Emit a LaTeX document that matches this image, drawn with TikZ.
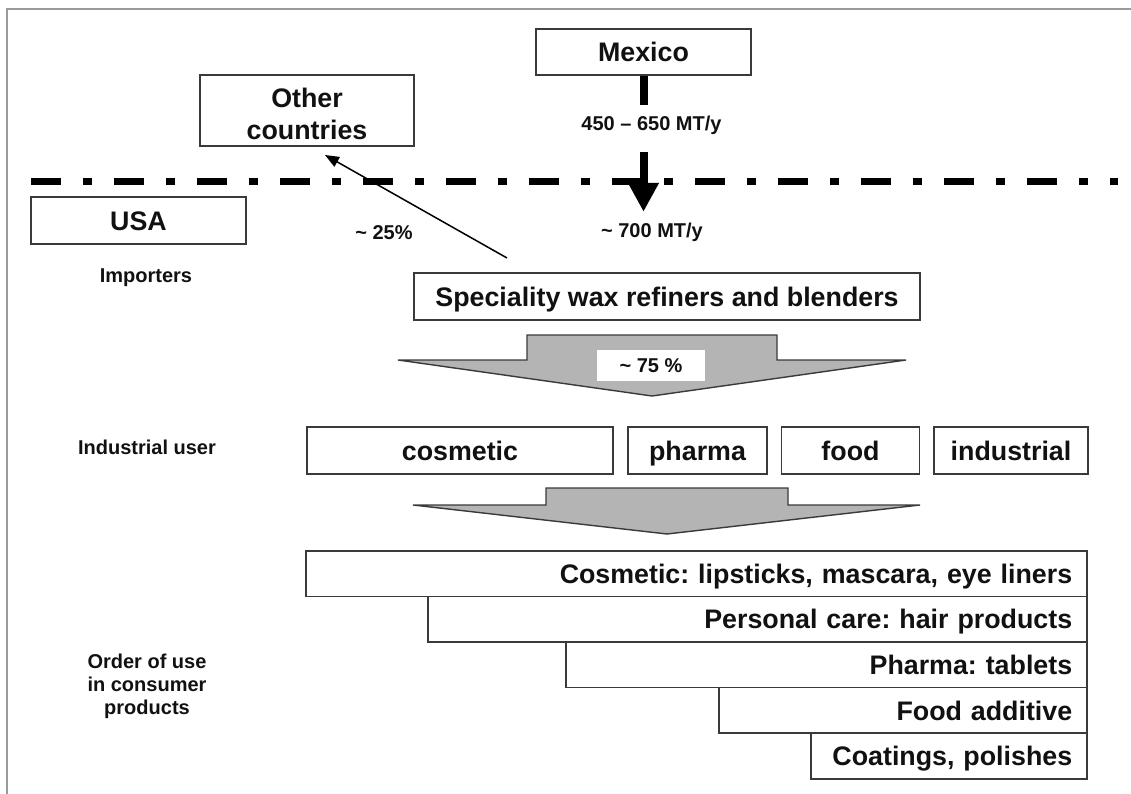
\documentclass[tikz,border=0pt]{standalone}
\usepackage{fontspec}
\setmainfont{Liberation Sans}
\usetikzlibrary{arrows.meta}

\definecolor{boxline}{HTML}{3A3A3A}
\definecolor{framegray}{HTML}{9A9A9A}
\definecolor{arrowfill}{HTML}{B4B4B4}
\definecolor{ink}{HTML}{111111}

\newcommand\bigtxt{\fontsize{26.8}{32}\selectfont\bfseries\frenchspacing}
\newcommand\smalltxt{\fontsize{20}{23}\selectfont\bfseries\frenchspacing}

\tikzset{
  box/.style={draw=boxline, line width=1.6pt, fill=white, text=ink,
    font=\bigtxt, inner sep=0pt, align=center,
    text height=19.2pt, text depth=0pt},
  plainbox/.style={draw=boxline, line width=1.6pt, fill=white, inner sep=0pt},
  rowbox/.style={box, anchor=north east, minimum height=45.6pt,
    inner xsep=15pt, inner ysep=0pt, align=right},
  lbl/.style={text=ink, font=\smalltxt, inner sep=0pt, align=center},
  bigarrow/.style={draw=boxline, line width=1.4pt, fill=arrowfill, line join=miter},
  border/.style={draw=black, line width=7pt,
    dash pattern=on 30pt off 22pt on 9pt off 22pt},
  thickflow/.style={draw=black, line width=8pt},
  exportarrow/.style={draw=black, line width=1.5pt,
    -{Triangle[width=11pt,length=14pt]}},
}

\begin{document}
\begin{tikzpicture}[x=1pt,y=-1pt]
  \useasboundingbox (0,0) rectangle (1131,794);
  \fill[white] (0,0) rectangle (1131,794);

  % frame edges
  \draw[framegray, line width=2pt] (7,794) -- (7,9) -- (1131,9);

  % national border
  \draw[border] (31,182) -- (1118,182);

  % countries
  \node[plainbox, minimum width=214pt, minimum height=71pt] (other) at (307,110.5) {};
  \node[text=ink, font=\bigtxt, align=center, inner sep=0pt] (othertext)
    at ([yshift=-3.5pt]other.center) {Other\\countries};
  \node[box, minimum width=215pt, minimum height=46pt] (mexico) at (643.5,52) {Mexico};
  \node[box, minimum width=215pt, minimum height=47pt] (usa) at (138.5,220.5) {USA};

  % flow labels
  \node[lbl, minimum height=40pt] (lab450) at (651.5,125) {450 -- 650 MT/y};
  \node[lbl, minimum height=40pt] (lab700) at (652,232) {\textasciitilde{} 700 MT/y};
  \node[lbl] (pct25) at (384,233) {\textasciitilde{} 25\%};

  % row labels
  \node[lbl] (importers) at (146,278) {Importers};
  \node[lbl] (induser) at (147,447) {Industrial user};
  \node[lbl] (orderuse) at (147,686) {Order of use\\in consumer\\products};

  % import from Mexico
  \draw[thickflow] (mexico.south) -- (mexico.south |- lab450.north);
  \draw[thickflow, -{Triangle[width=29pt,length=29pt]}, shorten <=7pt]
    (mexico.south |- lab450.south) -- (mexico.south |- lab700.north);

  % refiners
  \node[box, minimum width=506pt, minimum height=47pt] (spec) at (667,296.5)
    {Speciality wax refiners and blenders};

  % re-export to other countries
  \coordinate (exportfrom) at (507,258);
  \coordinate (exportto) at (325,155);
  \draw[exportarrow] (exportfrom) -- (exportto);

  % first distribution arrow
  \draw[bigarrow] (527,335) -- (777,335) -- (777,360) -- (906,360) -- (652,396)
    -- (398,360) -- (527,360) -- cycle;
  \node[fill=white, text=ink, font=\smalltxt, minimum width=108pt,
    minimum height=31pt, inner sep=0pt] (pct75) at (651,365.5)
    {\textasciitilde{} 75 \%};

  % industrial users
  \node[box, minimum width=306pt, minimum height=47pt] (cosmetic) at (460,450.5) {cosmetic};
  \node[box, minimum width=139pt, minimum height=47pt] (pharma) at (697.5,450.5) {pharma};
  \node[box, minimum width=138pt, minimum height=47pt] (food) at (850.5,450.5) {food};
  \node[box, minimum width=154pt, minimum height=47pt] (industrial) at (1011,450.5) {industrial};

  % second distribution arrow
  \draw[bigarrow] (546,488) -- (788,488) -- (788,505) -- (920,505) -- (667,534)
    -- (413,505) -- (546,505) -- cycle;

  % consumer products, in order of use
  \node[rowbox, text width=751pt] (rowa) at (1088,550)
    {Cosmetic: lipsticks, mascara, eye liners};
  \node[rowbox, text width=629pt] (rowb) at (1088,595.6)
    {Personal care: hair products};
  \node[rowbox, text width=491pt] (rowc) at (1088,641.2)
    {Pharma: tablets};
  \node[rowbox, text width=338pt] (rowd) at (1088,686.8)
    {Food additive};
  \node[rowbox, text width=246pt] (rowe) at (1088,732.4)
    {Coatings, polishes};
\end{tikzpicture}
\end{document}
